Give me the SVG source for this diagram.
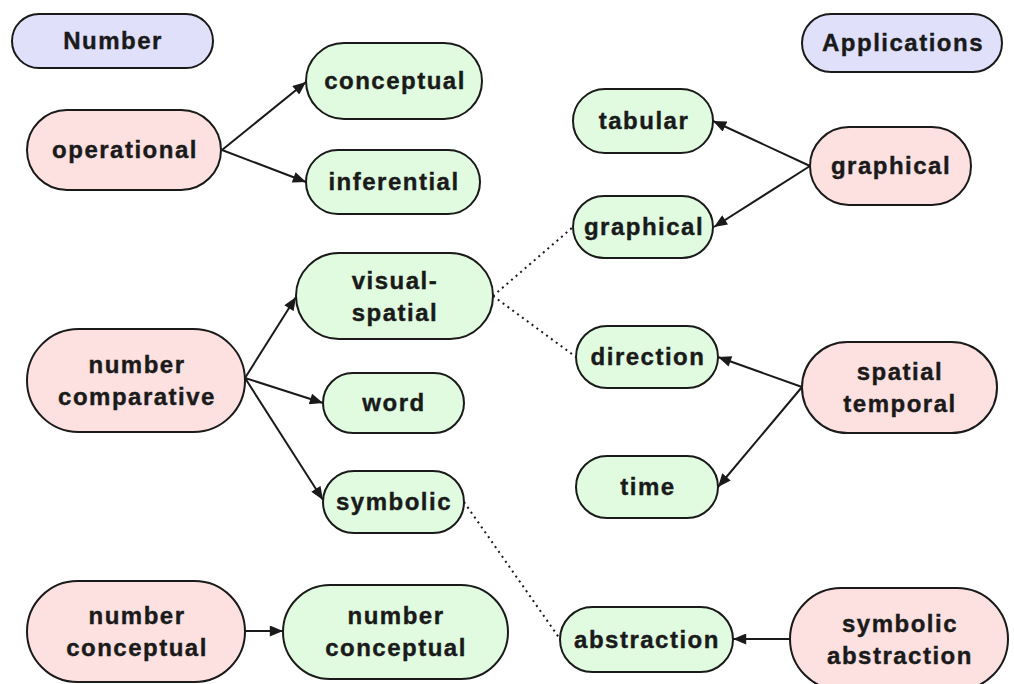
<svg xmlns="http://www.w3.org/2000/svg" width="1014" height="684" viewBox="0 0 1014 684">
<defs>
<style>
.n rect{stroke:#1a1a1a;stroke-width:2}
.pink rect{fill:#fde0e0}
.green rect{fill:#e0fbe0}
.blue rect{fill:#e0e0fa}
.n text{font-family:"Liberation Sans",Arial,sans-serif;font-weight:bold;font-size:24px;letter-spacing:1.5px;fill:#1a1a1a;stroke:#1a1a1a;stroke-width:0.4px;text-anchor:middle}
.e{stroke:#1a1a1a;stroke-width:2;fill:none}
.a{marker-end:url(#ah)}
.d{stroke-dasharray:2 4;stroke-width:2}
</style>
<marker id="ah" viewBox="0 0 12 10" refX="12" refY="5" markerWidth="14" markerHeight="11" markerUnits="userSpaceOnUse" orient="auto">
<path d="M0,0 L12,5 L0,10 z" fill="#1a1a1a"/>
</marker>
</defs>
<rect width="1014" height="684" fill="#ffffff"/>
<g id="connectors">
<line class="e a" x1="222" y1="150" x2="306" y2="82"/>
<line class="e a" x1="222" y1="150" x2="306" y2="182"/>
<line class="e a" x1="245" y1="378" x2="296" y2="297"/>
<line class="e a" x1="245" y1="378" x2="323" y2="403"/>
<line class="e a" x1="245" y1="378" x2="323" y2="500"/>
<line class="e a" x1="245" y1="631" x2="283" y2="631"/>
<line class="e a" x1="810" y1="166" x2="713" y2="121"/>
<line class="e a" x1="810" y1="166" x2="714" y2="227"/>
<line class="e a" x1="802" y1="387" x2="718" y2="357"/>
<line class="e a" x1="802" y1="387" x2="718" y2="487"/>
<line class="e a" x1="790" y1="639" x2="733" y2="639"/>
<line class="e d" x1="493" y1="296" x2="573" y2="227"/>
<line class="e d" x1="493" y1="296" x2="576" y2="357"/>
<line class="e d" x1="464" y1="502" x2="560" y2="639"/>
</g>
<g id="number" class="n blue"><rect x="12" y="14" width="201" height="54" rx="27"/><text x="113" y="49">Number</text></g>
<g id="applications" class="n blue"><rect x="802" y="14" width="200" height="58" rx="29"/><text x="903" y="51">Applications</text></g>
<g id="operational" class="n pink"><rect x="27" y="110" width="194" height="80" rx="40"/><text x="125" y="158">operational</text></g>
<g id="conceptual" class="n green"><rect x="306" y="43" width="176" height="76" rx="38"/><text x="395" y="89">conceptual</text></g>
<g id="inferential" class="n green"><rect x="306" y="150" width="174" height="64" rx="32"/><text x="394" y="190">inferential</text></g>
<g id="number-comparative" class="n pink"><rect x="27" y="329" width="218" height="103" rx="51.5"/><text x="137" y="373">number</text><text x="137" y="405">comparative</text></g>
<g id="visual-spatial" class="n green"><rect x="296" y="253" width="197" height="86" rx="43"/><text x="395" y="289">visual-</text><text x="395" y="321">spatial</text></g>
<g id="word" class="n green"><rect x="323" y="373" width="141" height="60" rx="30"/><text x="394" y="411">word</text></g>
<g id="symbolic" class="n green"><rect x="323" y="471" width="141" height="62" rx="31"/><text x="394" y="510">symbolic</text></g>
<g id="number-conceptual-src" class="n pink"><rect x="27" y="581" width="218" height="101" rx="50.5"/><text x="137" y="624">number</text><text x="137" y="656">conceptual</text></g>
<g id="number-conceptual-dst" class="n green"><rect x="283" y="585" width="225" height="94" rx="47"/><text x="396" y="624">number</text><text x="396" y="656">conceptual</text></g>
<g id="tabular" class="n green"><rect x="573" y="89" width="140" height="64" rx="32"/><text x="644" y="129">tabular</text></g>
<g id="graphical-src" class="n pink"><rect x="810" y="127" width="161" height="78" rx="39"/><text x="891" y="174">graphical</text></g>
<g id="graphical-dst" class="n green"><rect x="573" y="196" width="140" height="62" rx="31"/><text x="644" y="235">graphical</text></g>
<g id="direction" class="n green"><rect x="576" y="326" width="142" height="62" rx="31"/><text x="648" y="365">direction</text></g>
<g id="spatial-temporal" class="n pink"><rect x="802" y="342" width="195" height="91" rx="45.5"/><text x="900" y="380">spatial</text><text x="900" y="412">temporal</text></g>
<g id="time" class="n green"><rect x="576" y="456" width="142" height="62" rx="31"/><text x="648" y="495">time</text></g>
<g id="abstraction" class="n green"><rect x="560" y="607" width="173" height="65" rx="32.5"/><text x="647" y="648">abstraction</text></g>
<g id="symbolic-abstraction" class="n pink"><rect x="790" y="588" width="218" height="102" rx="51"/><text x="900" y="632">symbolic</text><text x="900" y="664">abstraction</text></g>
</svg>
